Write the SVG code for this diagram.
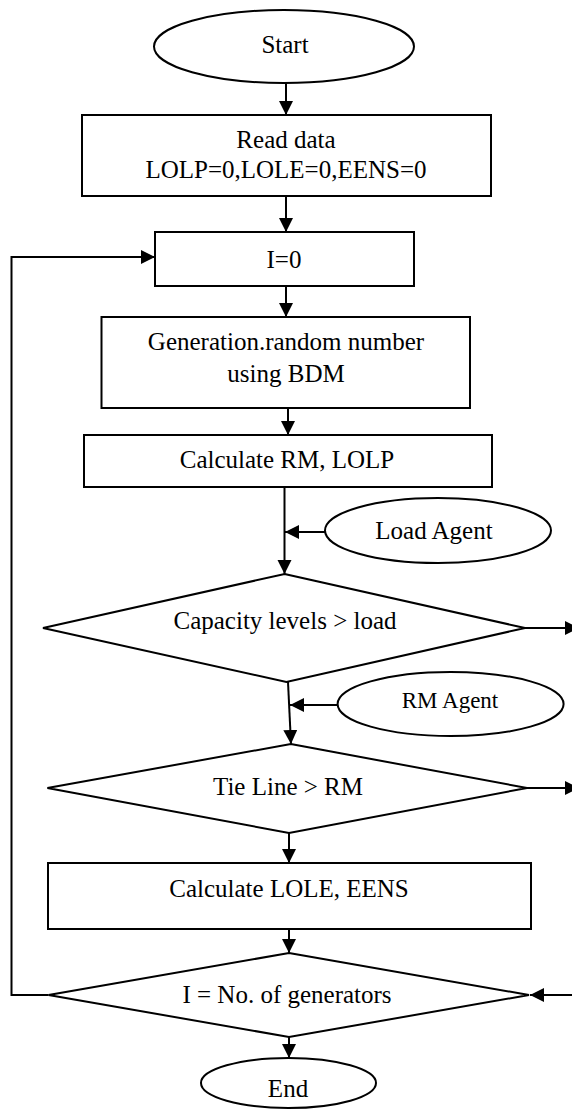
<svg xmlns="http://www.w3.org/2000/svg" width="572" height="1109" viewBox="0 0 572 1109">
<style>
.s{fill:#fff;stroke:#000;stroke-width:2}
.t{font-family:"Liberation Serif","Times New Roman",serif;font-size:25px;fill:#000;text-anchor:middle}
.c{fill:none;stroke:#000;stroke-width:2}
</style>
<defs>
<marker id="ah" markerUnits="userSpaceOnUse" markerWidth="16" markerHeight="16" refX="14" refY="7" orient="auto">
<path d="M0,0 L14,7 L0,14 Z" fill="#000"/>
</marker>
</defs>
<rect width="572" height="1109" fill="#fff"/>
<g id="connectors">
<path class="c" d="M286,83 V115" marker-end="url(#ah)"/>
<path class="c" d="M286,196 V232" marker-end="url(#ah)"/>
<path class="c" d="M286,286 V317" marker-end="url(#ah)"/>
<path class="c" d="M288,408 V435" marker-end="url(#ah)"/>
<path class="c" d="M284.5,487 V574" marker-end="url(#ah)"/>
<path class="c" d="M325,532 H285" marker-end="url(#ah)"/>
<path class="c" d="M288,682 L291,744" marker-end="url(#ah)"/>
<path class="c" d="M337.5,705 H290" marker-end="url(#ah)"/>
<path class="c" d="M525,628 H579" marker-end="url(#ah)"/>
<path class="c" d="M527,788 H579" marker-end="url(#ah)"/>
<path class="c" d="M289,833 V863" marker-end="url(#ah)"/>
<path class="c" d="M289,929 V953" marker-end="url(#ah)"/>
<path class="c" d="M572,995 H530" marker-end="url(#ah)"/>
<path class="c" d="M48.5,995 H11.5 V257 H155" marker-end="url(#ah)"/>
<path class="c" d="M289,1037 V1058" marker-end="url(#ah)"/>
</g>
<g id="start">
<ellipse class="s" cx="284" cy="46.5" rx="130" ry="36.5"/>
<text class="t" x="285" y="53">Start</text>
</g>
<g id="read">
<rect class="s" x="82" y="115" width="409" height="81"/>
<text class="t" x="286" y="148">Read data</text>
<text class="t" x="286" y="178">LOLP=0,LOLE=0,EENS=0</text>
</g>
<g id="i0">
<rect class="s" x="155" y="232" width="259" height="54"/>
<text class="t" x="284" y="268">I=0</text>
</g>
<g id="gen">
<rect class="s" x="101.5" y="317" width="368.5" height="91"/>
<text class="t" x="286" y="350">Generation.random number</text>
<text class="t" x="286" y="382">using BDM</text>
</g>
<g id="calcrm">
<rect class="s" x="84" y="435" width="408" height="52"/>
<text class="t" x="287" y="468">Calculate RM, LOLP</text>
</g>
<g id="loadagent">
<ellipse class="s" cx="438" cy="530.5" rx="113" ry="32.5"/>
<text class="t" x="434" y="539">Load Agent</text>
</g>
<g id="d1">
<polygon class="s" points="284.6,574 525,628 286.4,682 43,628"/>
<text class="t" x="285" y="629">Capacity levels &gt; load</text>
</g>
<g id="rmagent">
<ellipse class="s" cx="450.6" cy="704" rx="113" ry="32"/>
<text class="t" x="450" y="708" style="font-size:23px">RM Agent</text>
</g>
<g id="d2">
<polygon class="s" points="290.8,744 527,788 289,833 47.4,788"/>
<text class="t" x="288" y="795">Tie Line &gt; RM</text>
</g>
<g id="calclole">
<rect class="s" x="48" y="863" width="483" height="66"/>
<text class="t" x="289" y="897">Calculate LOLE, EENS</text>
</g>
<g id="d3">
<polygon class="s" points="289,953 529,995 289,1037 48.5,995"/>
<text class="t" x="287" y="1003">I = No. of generators</text>
</g>
<g id="end">
<ellipse class="s" cx="288.5" cy="1083" rx="87.5" ry="25"/>
<text class="t" x="288" y="1097">End</text>
</g>
</svg>
